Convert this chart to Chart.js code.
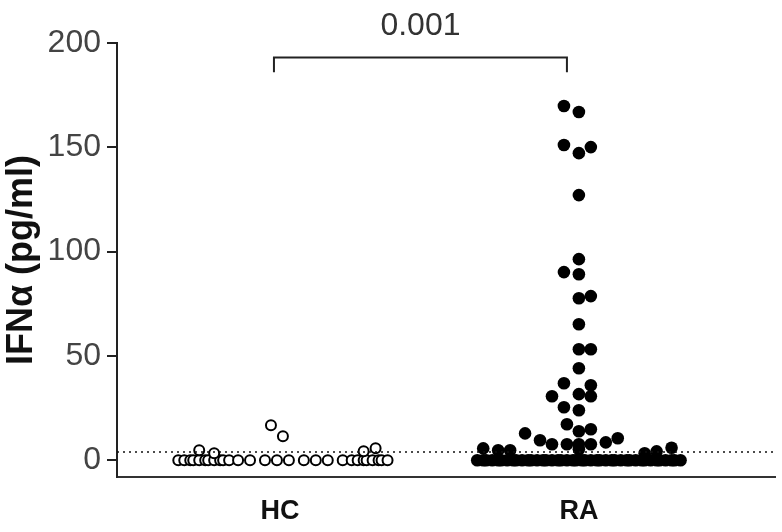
<!DOCTYPE html>
<html>
<head>
<meta charset="utf-8">
<script src="https://cdn.jsdelivr.net/npm/chart.js@4.4.1/dist/chart.umd.min.js"></script>
<style>
  html, body { margin: 0; padding: 0; background: #fff; }
  #wrap { width: 782px; height: 532px; position: relative; }
</style>
</head>
<body>
<div id="wrap"><canvas id="swarm"></canvas></div>
<script>
// categories on the x axis (HC = 1, RA = 2)
const categories = ['HC', 'RA'];
const yTicks = [0, 50, 100, 150, 200];
const detectionLimit = 4;
const pValue = '0.001';

// HC: horizontal offset from the category centre, and IFNa value
const hcOffsets = [
  -0.34, -0.32, -0.30, -0.29, -0.27, -0.25, -0.24, -0.22, -0.20, -0.19, -0.17,
  -0.14, -0.10, -0.05, -0.01, 0.03, 0.08, 0.12, 0.16, 0.21,
  0.24, 0.26, 0.28, 0.29, 0.31, 0.33, 0.34, 0.36,
  -0.27, -0.22, 0.28, 0.32, -0.03, 0.01
];
const hcValues = [
  0, 0, 0, 0, 0, 0, 0, 0, 0, 0, 0,
  0, 0, 0, 0, 0, 0, 0, 0, 0,
  0, 0, 0, 0, 0, 0, 0, 0,
  4.8, 3.4, 4.3, 5.8, 16.8, 11.5
];

// RA
const raOffsets = [
  -0.34, -0.32, -0.31, -0.29, -0.27, -0.26, -0.24, -0.22, -0.21, -0.19, -0.17,
  -0.16, -0.14, -0.12, -0.11, -0.09, -0.07, -0.06, -0.04, -0.02, -0.01,
  0.01, 0.02, 0.04, 0.06, 0.07, 0.09, 0.11, 0.12, 0.14, 0.16,
  0.17, 0.19, 0.21, 0.22, 0.24, 0.26, 0.27, 0.29, 0.31, 0.32, 0.34,
  -0.32, -0.27, -0.23, 0.22, 0.26, 0.31, 0.00,
  -0.18, -0.13, -0.09, -0.04, 0.00, 0.04, 0.09, 0.13,
  -0.04, 0.00, 0.04,
  -0.05, 0.00,
  -0.09, 0.00, 0.04,
  -0.05, 0.04,
  0.00,
  0.00, 0.04,
  0.00,
  0.00, 0.04,
  -0.05, 0.00,
  0.00,
  0.00,
  -0.05, 0.00, 0.04,
  -0.05, 0.00
];
const raValues = [
  0, 0, 0, 0, 0, 0, 0, 0, 0, 0, 0,
  0, 0, 0, 0, 0, 0, 0, 0, 0, 0,
  0, 0, 0, 0, 0, 0, 0, 0, 0, 0,
  0, 0, 0, 0, 0, 0, 0, 0, 0, 0, 0,
  5.7, 4.8, 4.8, 3.4, 4.3, 6.0, 5.3,
  12.9, 9.6, 7.7, 7.7, 7.7, 7.7, 8.6, 10.6,
  17.3, 13.9, 14.9,
  25.4, 24.0,
  30.7, 31.7, 30.7,
  36.9, 36.0,
  44.1,
  53.2, 53.2,
  65.2,
  77.7, 78.7,
  90.2, 89.2,
  96.4,
  127.1,
  151.1, 147.2, 150.1,
  169.8, 166.9
];

function toPoints(center, offsets, values) {
  return values.map((v, i) => ({ x: center + offsets[i], y: v }));
}

const FONT = "'Liberation Sans', Arial, sans-serif";

// dotted limit line, bracket and p value
const annotations = {
  id: 'annotations',
  afterDatasetsDraw(chart) {
    const { ctx, chartArea } = chart;
    const y = chart.scales.y;
    ctx.save();
    ctx.strokeStyle = '#111';
    ctx.lineWidth = 1.5;
    ctx.setLineDash([2, 4]);
    const yl = y.getPixelForValue(detectionLimit);
    ctx.beginPath();
    ctx.moveTo(chartArea.left, yl);
    ctx.lineTo(chartArea.right, yl);
    ctx.stroke();
    ctx.restore();
  },
  afterDraw(chart) {
    const { ctx } = chart;
    const x = chart.scales.x;
    const y = chart.scales.y;
    const x1 = x.getPixelForValue(0.98);
    const x2 = x.getPixelForValue(1.96);
    const yTop = y.getPixelForValue(193);
    const yEnd = y.getPixelForValue(186);
    ctx.save();
    ctx.strokeStyle = '#222';
    ctx.lineWidth = 2;
    ctx.beginPath();
    ctx.moveTo(x1, yEnd);
    ctx.lineTo(x1, yTop);
    ctx.lineTo(x2, yTop);
    ctx.lineTo(x2, yEnd);
    ctx.stroke();
    ctx.fillStyle = '#333';
    ctx.font = '32px ' + FONT;
    ctx.textAlign = 'center';
    ctx.textBaseline = 'middle';
    ctx.fillText(pValue, (x1 + x2) / 2, y.getPixelForValue(208));
    ctx.restore();
  }
};

new Chart(document.getElementById('swarm'), {
  type: 'scatter',
  data: {
    datasets: [
      {
        label: categories[0],
        data: toPoints(1, hcOffsets, hcValues),
        backgroundColor: '#fff',
        borderColor: '#000',
        borderWidth: 2,
        pointRadius: 5
      },
      {
        label: categories[1],
        data: toPoints(2, raOffsets, raValues),
        backgroundColor: '#000',
        borderColor: '#000',
        borderWidth: 0,
        pointRadius: 6.3
      }
    ]
  },
  options: {
    responsive: true,
    maintainAspectRatio: false,
    animation: false,
    layout: { padding: { top: 43, right: 7, bottom: 0, left: 0 } },
    plugins: {
      legend: { display: false },
      tooltip: { enabled: false }
    },
    scales: {
      x: {
        type: 'linear',
        min: 0.455,
        max: 2.656,
        afterBuildTicks: (s) => { s.ticks = [{ value: 1 }, { value: 2 }]; },
        afterFit: (s) => { s.height = 55; },
        grid: { display: false },
        border: { color: '#333', width: 2 },
        ticks: {
          padding: 10,
          color: '#111',
          font: { family: FONT, size: 27, weight: 'bold' },
          callback: (v) => categories[v - 1]
        }
      },
      y: {
        min: -8,
        max: 200,
        afterBuildTicks: (s) => { s.ticks = yTicks.map(v => ({ value: v })); },
        afterFit: (s) => { s.width = 117; },
        grid: {
          drawOnChartArea: false,
          drawTicks: true,
          tickLength: 10,
          color: '#222',
          lineWidth: 2
        },
        border: { color: '#222', width: 2 },
        ticks: {
          padding: 6,
          color: '#444',
          font: { family: FONT, size: 32 }
        },
        title: {
          display: true,
          text: 'IFNα (pg/ml)',
          color: '#111',
          padding: { top: 0, bottom: 0 },
          font: { family: FONT, size: 36, weight: 'bold' }
        }
      }
    }
  },
  plugins: [annotations]
});
</script>
</body>
</html>
